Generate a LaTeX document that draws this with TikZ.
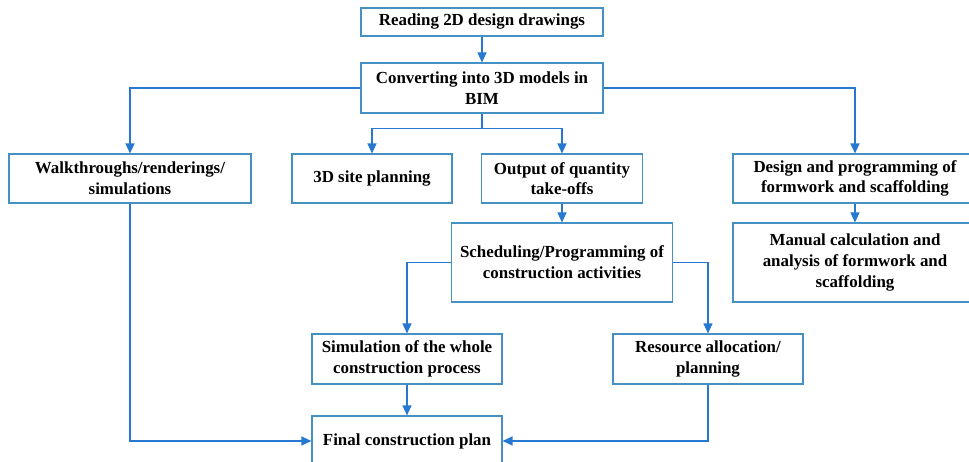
\documentclass[tikz,border=0pt]{standalone}
\usepackage{fontspec}
\setmainfont{Liberation Serif}
\usetikzlibrary{arrows.meta}
\definecolor{boxblue}{RGB}{70,145,195}
\definecolor{linkblue}{RGB}{38,120,208}
\begin{document}
\begin{tikzpicture}[x=1pt,y=-1pt,
    stage/.style={draw=boxblue, line width=1.1pt, align=center, inner sep=0pt,
      font=\fontsize{16.9}{20.7}\selectfont\bfseries},
    link/.style={draw=linkblue, line width=1.2pt, -{Triangle[length=10pt,width=9pt]}}]
      \clip (0,0) rectangle (969,462);

      \node[stage, minimum width=242pt, minimum height=28pt] (read) at (482,22) {Reading 2D design drawings};
      \node[stage, minimum width=242pt, minimum height=50pt] (conv) at (482,88) {Converting into 3D models in\\BIM};

      \node[stage, minimum width=242pt, minimum height=49pt] (walk) at (130,178.5) {Walkthroughs/renderings/\\simulations};
      \node[stage, minimum width=160pt, minimum height=49pt] (site) at (372,178.5) {3D site planning};
      \node[stage, minimum width=161pt, minimum height=49pt] (qto) at (562,178.5) {Output of quantity\\take-offs};
      \node[stage, minimum width=244pt, minimum height=49pt] (design) at (855,178.5) {Design and programming of\\formwork and scaffolding};

      \node[stage, minimum width=221pt, minimum height=79pt] (sched) at (562,262.5) {Scheduling/Programming of\\construction activities};
      \node[stage, minimum width=244pt, minimum height=79pt] (manual) at (855,262.5) {Manual calculation and\\analysis of formwork and\\scaffolding};

      \node[stage, minimum width=190pt, minimum height=50pt] (sim) at (407,359) {Simulation of the whole\\construction process};
      \node[stage, minimum width=190pt, minimum height=50pt] (res) at (708,359) {Resource allocation/\\planning};
      \node[stage, minimum width=190pt, minimum height=50pt] (final) at (407,441) {Final construction plan};

      \draw[link] (read) -- (conv);
      \draw[link] (conv.west) -| (walk.north);
      \draw[link] (conv.east) -| (design.north);
      \draw[link] (conv.south) -- ++(0,15) -| (site.north);
      \draw[link] (conv.south) -- ++(0,15) -| (qto.north);
      \draw[link] (qto) -- (sched);
      \draw[link] (design) -- (manual);
      \draw[link] (sched.west) -| (sim.north);
      \draw[link] (sched.east) -| (res.north);
      \draw[link] (sim) -- (final);
      \draw[link] (walk.south) |- (final.west);
      \draw[link] (res.south) |- (final.east);
\end{tikzpicture}
\end{document}
